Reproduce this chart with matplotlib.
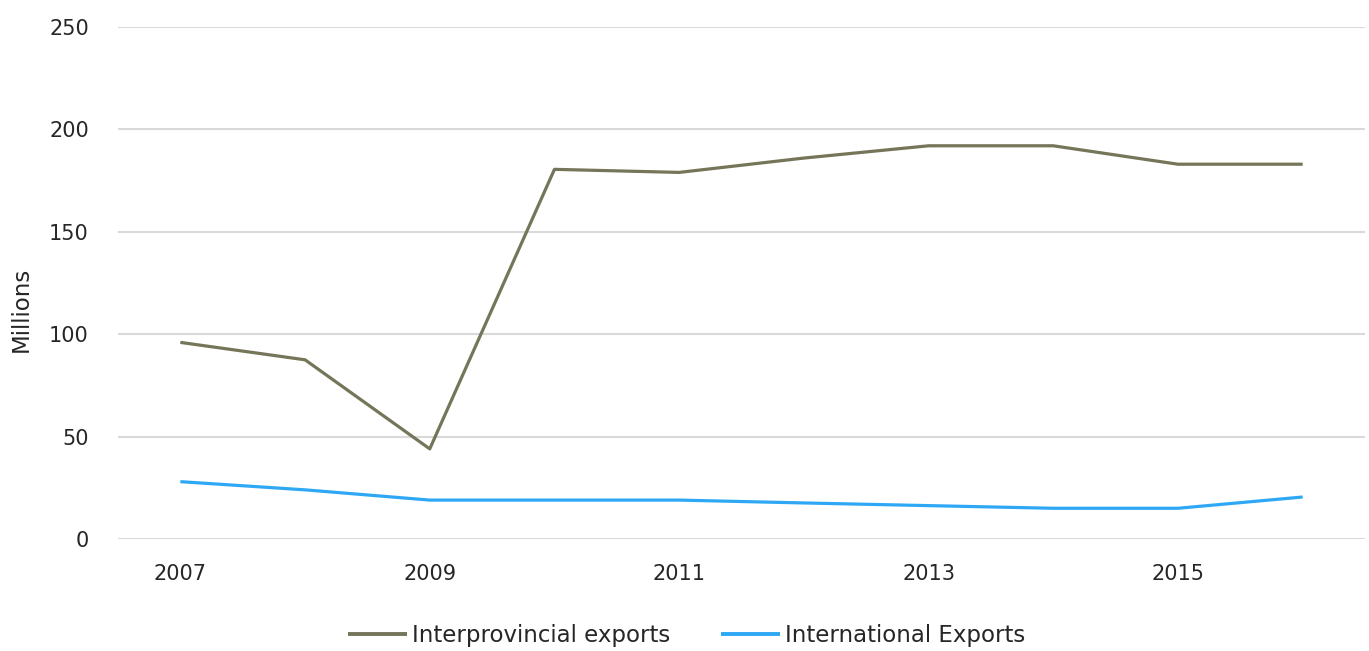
import matplotlib
matplotlib.use("Agg")
import matplotlib.pyplot as plt

years = [2007, 2008, 2009, 2010, 2011, 2012, 2013, 2014, 2015, 2016]
interprovincial = [96, 87.5, 44, 180.5, 179, 186, 192, 192, 183, 183]
international = [28, 24, 19, 19, 19, 17.6, 16.3, 15, 15, 20.5]
xticks = [2007, 2009, 2011, 2013, 2015]
yticks = [0, 50, 100, 150, 200, 250]

plt.rcParams['font.family'] = ['DejaVu Sans']

W, H = 1369, 651
fig = plt.figure(figsize=(W/100, H/100), dpi=100)
ax = fig.add_axes([118/W, 1 - 539/H, (1365-118)/W, (539-27)/H])

ax.plot(years, interprovincial, color='#75755a', lw=2.3, label='Interprovincial exports', solid_capstyle='butt')
ax.plot(years, international, color='#2ea8f4', lw=2.3, label='International Exports', solid_capstyle='butt')

ax.set_xlim(2006.5, 2016.5)
ax.set_ylim(0, 250)
ax.set_yticks(yticks)
ax.set_xticks(xticks)
ax.yaxis.grid(True, color='#d9d9d9', lw=1.5)
ax.set_axisbelow(True)
for s in ax.spines.values():
    s.set_visible(False)
ax.tick_params(axis='both', length=0, labelsize=15, colors='#262626')
ax.tick_params(axis='y', pad=21)
ax.tick_params(axis='x', pad=18)
ax.set_ylabel('Millions', fontsize=16.5, color='#262626')
ax.yaxis.set_label_coords(-85/(1365-118), (539-309)/(539-27))

leg = ax.legend(loc='upper center', bbox_to_anchor=(0.456, -0.125), ncol=2, frameon=False,
                fontsize=16.5, handlelength=2.6, handletextpad=0.22, columnspacing=2.2,
                labelcolor='#262626')
for ln in leg.get_lines():
    ln.set_linewidth(2.8)

fig.savefig('out.png', dpi=100)
